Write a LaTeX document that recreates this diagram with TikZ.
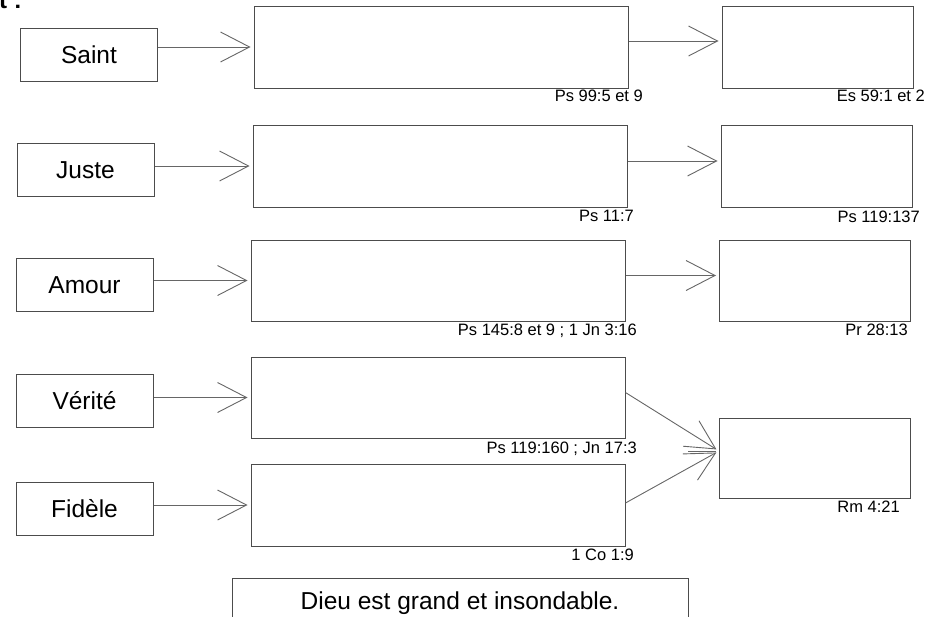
\documentclass[tikz,border=0pt]{standalone}
\usepackage{fontspec}
\setmainfont{Liberation Sans}
\usetikzlibrary{arrows.meta}

\tikzset{
  word/.style={draw=black!70, line width=1pt, minimum width=137pt, minimum height=53pt,
    inner sep=0pt, font=\fontsize{24.5}{28}\selectfont},
  wide/.style={draw=black!70, line width=1pt, minimum width=374pt, minimum height=82pt, inner sep=0pt},
  side/.style={draw=black!70, line width=1pt, minimum width=191pt, minimum height=82pt, inner sep=0pt},
  verse/.style={anchor=base east, inner sep=0pt, font=\fontsize{16.5}{19}\selectfont},
  link/.style={line width=0.9pt, draw=black!60, shorten >=3pt},
}

\begin{document}
\begin{tikzpicture}[x=1pt, y=-1pt, >={Straight Barb[length=29pt,width=30pt]}]
    \useasboundingbox (0,0) rectangle (944,616);
    \node[anchor=base west, inner sep=0pt, font=\fontsize{24}{28}\selectfont\bfseries] (head) at (-1,8) {t :};

    \node[word] (saint) at (89,54.5) {Saint};
    \node[word] (juste) at (85.5,170) {Juste};
    \node[word] (amour) at (84.5,285) {Amour};
    \node[word] (verite) at (84.5,401) {Vérité};
    \node[word] (fidele) at (84.5,509) {Fidèle};

    \node[wide] (b1) at (441,47) {};
    \node[wide] (b2) at (440,166) {};
    \node[wide, minimum height=81pt] (b3) at (438,280.5) {};
    \node[wide, minimum height=81pt] (b4) at (438,397.5) {};
    \node[wide] (b5) at (438,505) {};

    \node[side] (r1) at (817.5,47) {};
    \node[side] (r2) at (816.5,166) {};
    \node[side, minimum height=81pt] (r3) at (815,280.5) {};
    \node[side, minimum height=80pt] (r4) at (815,458) {};

    \node[verse] (v1) at (643,101) {Ps 99:5 et 9};
    \node[verse] (v2) at (634,221) {Ps 11:7};
    \node[verse] (v3) at (637,335) {Ps 145:8 et 9 ; 1 Jn 3:16};
    \node[verse] (v4) at (637,453) {Ps 119:160 ; Jn 17:3};
    \node[verse] (v5) at (634,560) {1 Co 1:9};
    \node[verse] (w1) at (925,101) {Es 59:1 et 2};
    \node[verse] (w2) at (920,222) {Ps 119:137};
    \node[verse] (w3) at (908,335) {Pr 28:13};
    \node[verse] (w4) at (900,512) {Rm 4:21};

    \draw[link,->] (saint.east |- b1.west) -- (b1.west);
    \draw[link,->] (juste.east |- b2.west) -- (b2.west);
    \draw[link,->] (amour.east |- b3.west) -- (b3.west);
    \draw[link,->] (verite.east |- b4.west) -- (b4.west);
    \draw[link,->] (fidele.east |- b5.west) -- (b5.west);

    \draw[link,->] ([yshift=6pt]b1.east) -- ([yshift=6pt]r1.west);
    \draw[link,->] ([yshift=5pt]b2.east) -- ([yshift=5pt]r2.west);
    \draw[link,->] ([yshift=5pt]b3.east) -- ([yshift=5pt]r3.west);

    \coordinate (meet) at ([yshift=7pt]r4.west);
    \coordinate (stub) at ([xshift=-31pt]meet);
    \draw[link,->] ([yshift=5pt]b4.east) -- (meet);
    \draw[link,->] ([yshift=2pt]b5.east) -- (meet);
    \draw[link] (stub) -- (meet);

    \node[draw=black!70, line width=1pt, minimum width=456pt, minimum height=50pt,
      font=\fontsize{24.5}{28}\selectfont] (motto) at (460,603) {Dieu est grand et insondable.};
\end{tikzpicture}
\end{document}
